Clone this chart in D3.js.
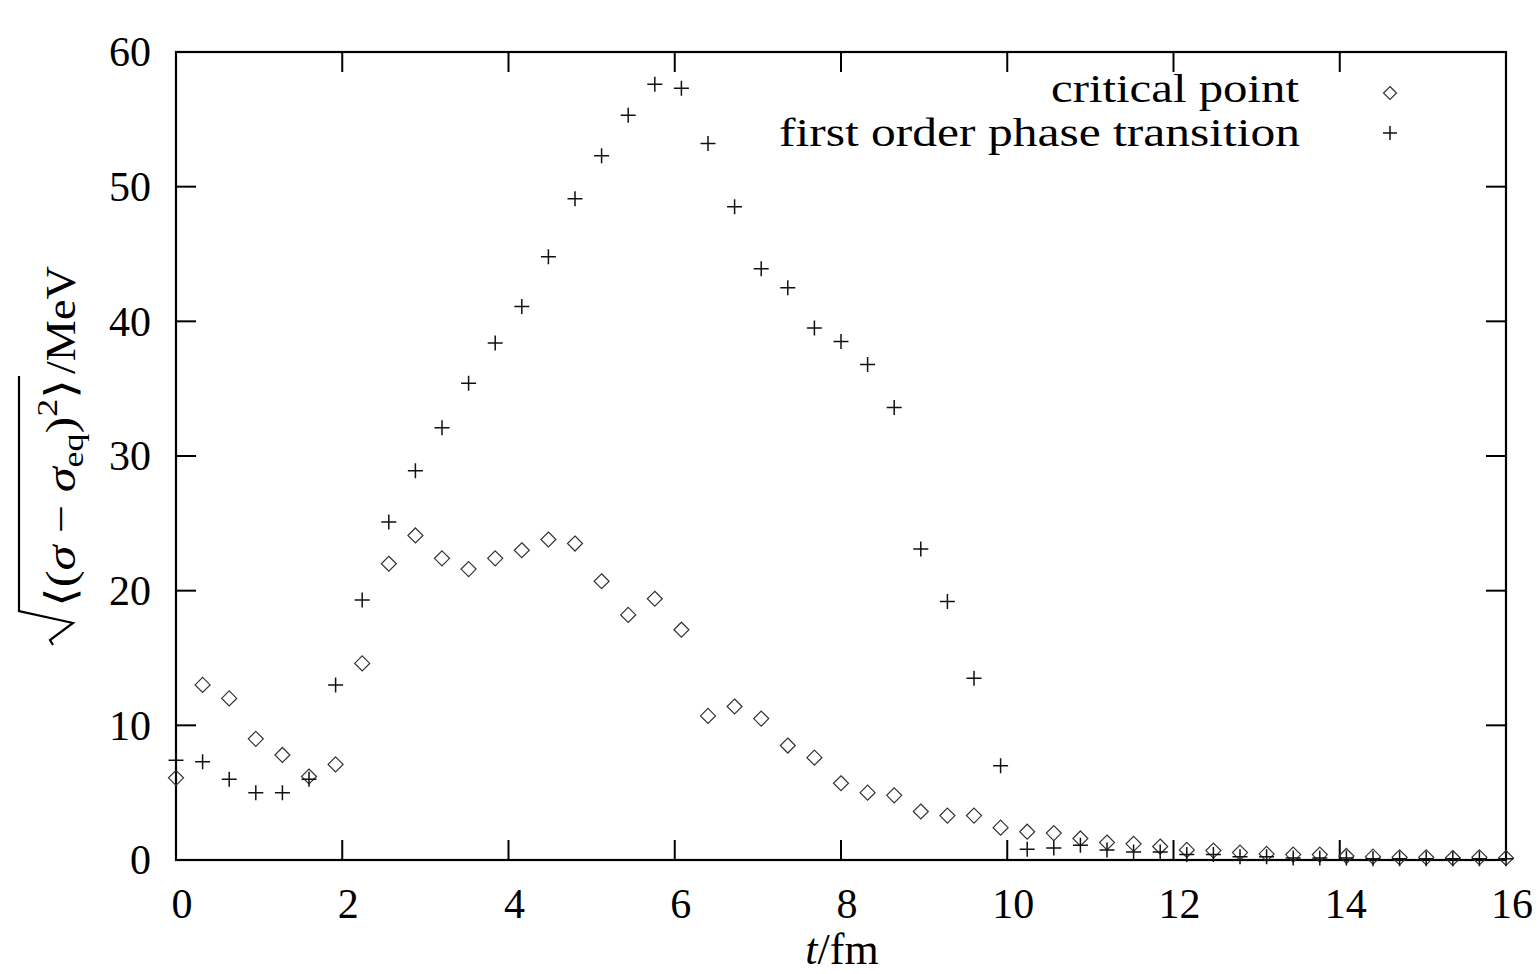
<!DOCTYPE html>
<html>
<head>
<meta charset="utf-8">
<script src="https://cdn.jsdelivr.net/npm/d3@7"></script>
<style>
  html, body { margin: 0; padding: 0; background: #fff; }
  svg { display: block; }
  text { font-family: "Liberation Serif", "DejaVu Serif", serif; fill: #000; }
</style>
</head>
<body>
<svg id="chart" width="1539" height="974"></svg>
<script>
// ---- data ----
const times = [0.00, 0.32, 0.64, 0.96, 1.28, 1.60, 1.92, 2.24, 2.56, 2.88,
               3.20, 3.52, 3.84, 4.16, 4.48, 4.80, 5.12, 5.44, 5.76, 6.08,
               6.40, 6.72, 7.04, 7.36, 7.68, 8.00, 8.32, 8.64, 8.96, 9.28,
               9.60, 9.92, 10.24, 10.56, 10.88, 11.20, 11.52, 11.84, 12.16, 12.48,
               12.80, 13.12, 13.44, 13.76, 14.08, 14.40, 14.72, 15.04, 15.36, 15.68, 16.00];

const criticalPoint = [6.1, 13.0, 12.0, 9.0, 7.8, 6.2, 7.1, 14.6, 22.0, 24.1,
                       22.4, 21.6, 22.4, 23.0, 23.8, 23.5, 20.7, 18.2, 19.4, 17.1,
                       10.7, 11.4, 10.5, 8.5, 7.6, 5.7, 5.0, 4.8, 3.6, 3.3,
                       3.3, 2.4, 2.1, 2.0, 1.6, 1.3, 1.2, 1.0, 0.75, 0.7,
                       0.55, 0.45, 0.4, 0.4, 0.3, 0.25, 0.2, 0.2, 0.15, 0.2, 0.15];

const firstOrder = [7.4, 7.3, 6.0, 5.0, 5.0, 6.0, 13.0, 19.3, 25.1, 28.9,
                    32.1, 35.4, 38.4, 41.1, 44.8, 49.1, 52.3, 55.3, 57.6, 57.3,
                    53.2, 48.5, 43.9, 42.5, 39.5, 38.5, 36.8, 33.6, 23.1, 19.2,
                    13.5, 7.0, 0.8, 0.9, 1.1, 0.75, 0.6, 0.6, 0.4, 0.4,
                    0.25, 0.25, 0.15, 0.15, 0.15, 0.1, 0.1, 0.1, 0.1, 0.1, 0.1];

const xTicks = [0, 2, 4, 6, 8, 10, 12, 14, 16];
const yTicks = [0, 10, 20, 30, 40, 50, 60];
const seriesNames = ["critical point", "first order phase transition"];

// ---- layout ----
const svg = d3.select("#chart");
const L = 176, R = 1506, T = 52, B = 860;
const x = d3.scaleLinear().domain([0, 16]).range([L, R]);
const y = d3.scaleLinear().domain([0, 60]).range([B, T]);
const tickLen = 20;
const fs = 42;

// ticks (inward, on all four sides)
const gT = svg.append("g").attr("stroke", "#000").attr("stroke-width", 2);
xTicks.forEach(v => {
  gT.append("line").attr("x1", x(v)).attr("x2", x(v)).attr("y1", B).attr("y2", B - tickLen);
  gT.append("line").attr("x1", x(v)).attr("x2", x(v)).attr("y1", T).attr("y2", T + tickLen);
});
yTicks.forEach(v => {
  gT.append("line").attr("x1", L).attr("x2", L + tickLen).attr("y1", y(v)).attr("y2", y(v));
  gT.append("line").attr("x1", R).attr("x2", R - tickLen).attr("y1", y(v)).attr("y2", y(v));
});

// frame
svg.append("rect").attr("x", L).attr("y", T).attr("width", R - L).attr("height", B - T)
  .attr("fill", "none").attr("stroke", "#000").attr("stroke-width", 2.2);

// tick labels
svg.append("g").selectAll("text").data(xTicks).join("text")
  .attr("x", d => x(d) + 6).attr("y", 918)
  .attr("text-anchor", "middle").attr("font-size", fs).text(d => d);
svg.append("g").selectAll("text").data(yTicks).join("text")
  .attr("x", 151).attr("y", d => y(d)).attr("dy", "0.34em")
  .attr("text-anchor", "end").attr("font-size", fs).text(d => d);

// x axis label
const xl = svg.append("text").attr("x", 842).attr("y", 964).attr("text-anchor", "middle").attr("font-size", 44);
xl.append("tspan").attr("font-style", "italic").text("t");
xl.append("tspan").text("/fm");

// y axis label (rotated, with radical sign)
const yl = svg.append("g").attr("transform", "translate(75,645) rotate(-90)");
const radStart = 38;
const radLen = 228;
const rad = yl.append("text").attr("x", radStart).attr("y", 0).attr("font-size", fs)
  .attr("textLength", radLen).attr("lengthAdjust", "spacingAndGlyphs");
rad.append("tspan").text("\u27E8(");
rad.append("tspan").attr("font-style", "italic").text("\u03C3");
rad.append("tspan").text(" \u2212 ");
rad.append("tspan").attr("font-style", "italic").text("\u03C3");
rad.append("tspan").attr("font-size", 30).attr("dy", 8).text("eq");
rad.append("tspan").attr("dy", -8).text(")");
rad.append("tspan").attr("font-size", 30).attr("dy", -18).text("2");
rad.append("tspan").attr("dy", 18).text("\u27E9");
const radEnd = radStart + radLen + 3;
yl.append("path")
  .attr("d", `M0,-22 L5,-25 L22,-2 L34,-56 L${radEnd},-56`)
  .attr("fill", "none").attr("stroke", "#000").attr("stroke-width", 2.2)
  .attr("stroke-linejoin", "miter");
yl.append("text").attr("x", radEnd + 2).attr("y", 0).attr("font-size", fs)
  .attr("textLength", 108).attr("lengthAdjust", "spacingAndGlyphs").text("/MeV");

// markers
const diamond = (cx, cy, s) => `M${cx},${cy - s}L${cx + s},${cy}L${cx},${cy + s}L${cx - s},${cy}Z`;
const plus = (cx, cy, s) => `M${cx - s},${cy}H${cx + s}M${cx},${cy - s}V${cy + s}`;
const ds = 7.5, ps = 7.5;

const pts = svg.append("g");
pts.selectAll("path.cp").data(times.map((t, i) => [t, criticalPoint[i]])).join("path")
  .attr("class", "cp")
  .attr("d", d => diamond(x(d[0]), y(d[1]), ds))
  .attr("fill", "none").attr("stroke", "#333").attr("stroke-width", 1.2);
pts.selectAll("path.fo").data(times.map((t, i) => [t, firstOrder[i]])).join("path")
  .attr("class", "fo")
  .attr("d", d => plus(x(d[0]), y(d[1]), ps))
  .attr("fill", "none").attr("stroke", "#111").attr("stroke-width", 1.5);

// legend
const lfs = 39;
const lg = svg.append("g");
lg.append("text").attr("x", 1299).attr("y", 102).attr("text-anchor", "end").attr("font-size", lfs)
  .attr("textLength", 248).attr("lengthAdjust", "spacingAndGlyphs").text(seriesNames[0]);
lg.append("text").attr("x", 1300).attr("y", 146).attr("text-anchor", "end").attr("font-size", lfs)
  .attr("textLength", 521).attr("lengthAdjust", "spacingAndGlyphs").text(seriesNames[1]);
lg.append("path").attr("d", diamond(1390, 93, 6.5)).attr("fill", "none").attr("stroke", "#333").attr("stroke-width", 1.2);
lg.append("path").attr("d", plus(1390, 133, 7)).attr("fill", "none").attr("stroke", "#111").attr("stroke-width", 1.5);
</script>
</body>
</html>
